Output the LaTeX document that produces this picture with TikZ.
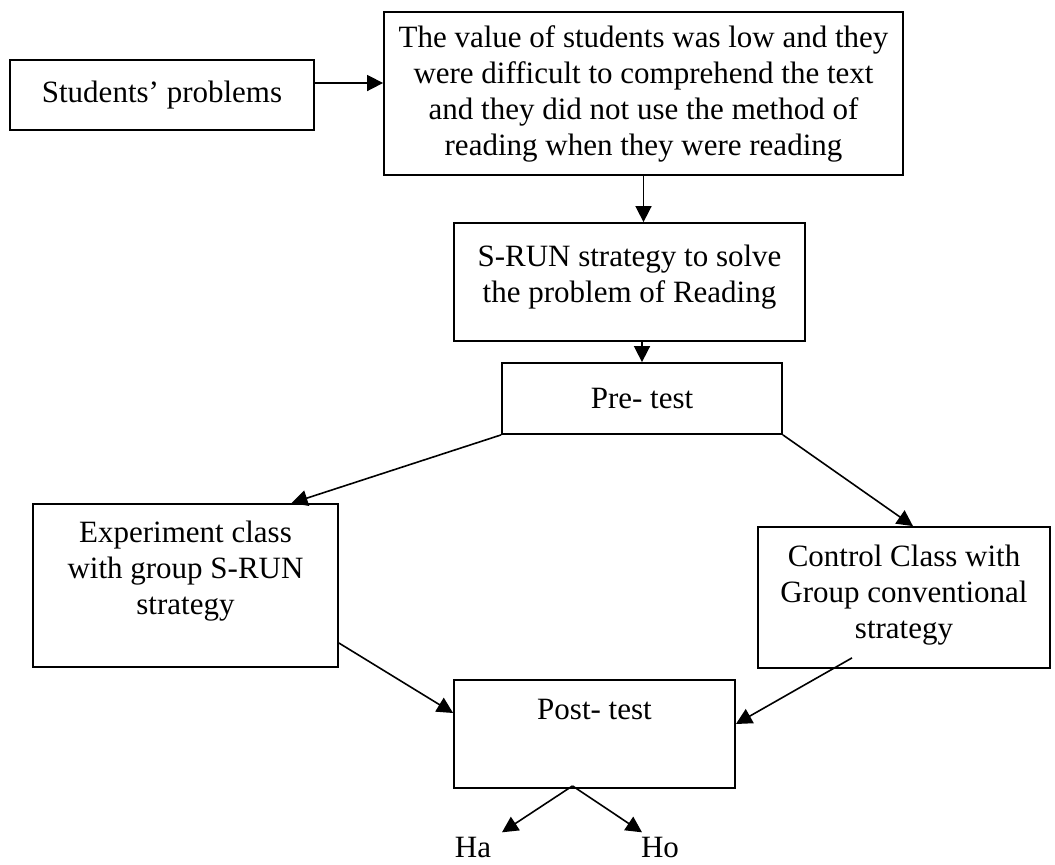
\documentclass[tikz,border=0pt]{standalone}
\usepackage{fontspec}
\setmainfont{Liberation Serif}
\usetikzlibrary{arrows.meta,positioning}

\begin{document}
\begin{tikzpicture}[x=0.5pt,y=-0.5pt,
	box/.style={draw,line width=0.9pt,inner sep=0pt,align=center,font=\fontsize{15.5}{18}\selectfont},
	txt/.style={inner sep=0pt,font=\fontsize{15.5}{18}\selectfont},
	arr/.style={line width=0.8pt,-{Triangle[length=8pt,width=8pt]}}]
	
	\useasboundingbox (0,0) rectangle (1055,864);
	
	% Define the boxes
	\node[box,minimum width=152pt,minimum height=35pt] (stud) at (162,95) {Students’ problems};
	\node[box,minimum width=259.5pt,minimum height=81.5pt] (main) at (643.5,93.5)
		{The value of students was low and they\\were difficult to comprehend the text\\and they did not use the method of\\reading when they were reading};
	\node[box,minimum width=175.5pt,text height=39.5pt,text depth=19.5pt] (srun) at (629.5,282)
		{S-RUN strategy to solve\\the problem of Reading};
	\node[box,minimum width=140pt,minimum height=35.5pt] (pre) at (642,398.5) {Pre- test};
	\node[box,minimum width=152.5pt,text height=55pt,text depth=26.5pt] (exp) at (185.5,585.5)
		{Experiment class\\with group S-RUN\\strategy};
	\node[box,minimum width=146pt,text height=55.5pt,text depth=15pt] (ctrl) at (904,597.5)
		{Control Class with\\Group conventional\\strategy};
	\node[box,minimum width=140.5pt,text height=19.5pt,text depth=34.5pt] (post) at (594.5,734) {Post- test};
	
	% Hypotheses
	\node[txt,anchor=base] (ha) at (473,857) {Ha};
	\node[txt,anchor=base] (ho) at (660,857) {Ho};
	
	% Draw the arrows
	\coordinate (studOut) at ([yshift=6pt]stud.east);
	\coordinate (apex) at ([shift={(-11pt,1.5pt)}]post.south);
	\draw[arr] (studOut) -- (studOut -| main.west);
	\draw[arr] (main.south) -- (main.south |- srun.north);
	\draw[arr] (pre.north |- srun.south) -- (pre.north);
	\draw[arr] (pre.south west) -- ([xshift=53pt]exp.north);
	\draw[arr] (pre.south east) -- ([xshift=4.5pt]ctrl.north);
	\draw[arr] ([yshift=-28.75pt]exp.east) -- ([yshift=10.5pt]post.west);
	\draw[arr] ([shift={(-26pt,5.5pt)}]ctrl.south) -- ([yshift=5pt]post.east);
	\draw[arr] (apex) -- ([shift={(14.5pt,2pt)}]ha.north);
	\draw[arr] (apex) -- ([shift={(-9pt,2pt)}]ho.north);
	
\end{tikzpicture}
\end{document}
